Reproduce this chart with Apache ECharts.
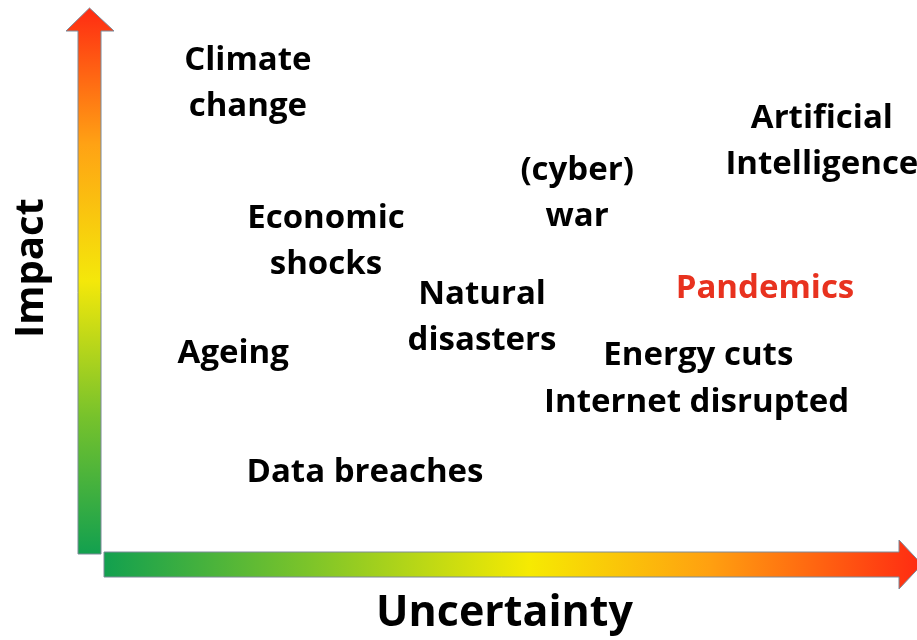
<!DOCTYPE html>
<html>
<head>
<meta charset="utf-8">
<script src="https://cdn.jsdelivr.net/npm/echarts@6/dist/echarts.min.js"></script>
<style>
  html, body { margin: 0; padding: 0; background: #fff; }
  #main { width: 917px; height: 640px; }
</style>
</head>
<body>
<div id="main"></div>
<script>
// risk topics placed by uncertainty (x) and impact (y), 0-100 scale
var topics = ['Climate\nchange', 'Economic\nshocks', '(cyber)\nwar', 'Artificial\nIntelligence',
  'Pandemics', 'Natural\ndisasters', 'Energy cuts', 'Internet disrupted', 'Ageing', 'Data breaches'];
var uncertainty = [17.7, 27.3, 58.2, 88.3, 81.3, 46.5, 73.1, 72.9, 15.9, 32.1];
var impact = [84.8, 56.3, 65.0, 74.3, 47.8, 42.4, 35.5, 27.0, 35.9, 14.3];
var highlighted = 'Pandemics';

var xTitle = 'Uncertainty';
var yTitle = 'Impact';

var chart = echarts.init(document.getElementById('main'));

var points = [];
for (var i = 0; i < topics.length; i++) {
  var hot = topics[i] === highlighted;
  points.push({
    name: topics[i],
    value: [uncertainty[i], impact[i]],
    label: { color: hot ? '#e8321f' : '#000' }
  });
}

// gradient arrows standing in for the axes
var vGrad = new echarts.graphic.LinearGradient(0, 1, 0, 0, [
  { offset: 0, color: '#12a04f' },
  { offset: 0.25, color: '#76c22c' },
  { offset: 0.5, color: '#f4e80a' },
  { offset: 0.75, color: '#ffa214' },
  { offset: 1, color: '#ff2a12' }
]);
var hGrad = new echarts.graphic.LinearGradient(0, 0, 1, 0, [
  { offset: 0, color: '#12a04f' },
  { offset: 0.25, color: '#7cc42a' },
  { offset: 0.52, color: '#f6ea02' },
  { offset: 0.74, color: '#ffa010' },
  { offset: 1, color: '#ff2a12' }
]);

var option = {
  backgroundColor: '#fff',
  animation: false,
  grid: { left: 104, right: 0, top: 0, bottom: 88 },
  xAxis: {
    type: 'value', min: 0, max: 100,
    name: xTitle, nameLocation: 'middle', nameGap: 40,
    nameTextStyle: { fontFamily: 'Open Sans', fontWeight: 'bold', fontSize: 43, color: '#000',
      padding: [0, 12, 0, 0] },
    axisLine: { show: false }, axisTick: { show: false },
    axisLabel: { show: false }, splitLine: { show: false }
  },
  yAxis: {
    type: 'value', min: 0, max: 100,
    name: yTitle, nameLocation: 'middle', nameGap: 52, nameRotate: 90,
    nameTextStyle: { fontFamily: 'Open Sans', fontWeight: 'bold', fontSize: 40, color: '#000',
      padding: [0, 0, 0, 16] },
    axisLine: { show: false }, axisTick: { show: false },
    axisLabel: { show: false }, splitLine: { show: false }
  },
  graphic: [
    {
      type: 'polygon', z: 1,
      shape: { points: [[78, 554], [78, 31], [66, 31], [89.5, 8], [114, 31], [101, 31], [101, 554]] },
      style: { fill: vGrad, stroke: '#7d8a99', lineWidth: 1 }
    },
    {
      type: 'polygon', z: 1,
      shape: { points: [[104, 552], [899, 552], [899, 540], [922, 564.5], [899, 589], [899, 577], [104, 577]] },
      style: { fill: hGrad, stroke: '#7d8a99', lineWidth: 1 }
    }
  ],
  series: [{
    type: 'scatter',
    symbolSize: 1,
    itemStyle: { color: 'transparent', opacity: 1 },
    data: points,
    label: {
      show: true,
      position: 'inside',
      formatter: '{b}',
      fontFamily: 'Open Sans',
      fontWeight: 'bold',
      fontSize: 33,
      lineHeight: 46,
      align: 'center',
      verticalAlign: 'middle'
    },
    emphasis: { disabled: true }
  }]
};

chart.setOption(option);
</script>
</body>
</html>
